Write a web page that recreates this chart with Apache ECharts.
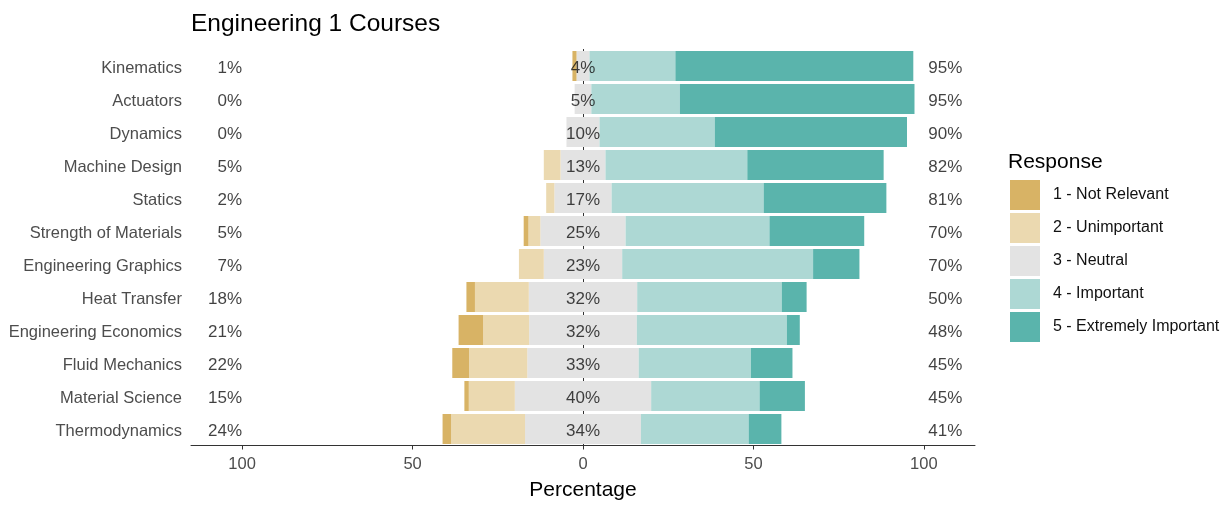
<!DOCTYPE html>
<html>
<head>
<meta charset="utf-8">
<script src="https://cdn.jsdelivr.net/npm/echarts@6/dist/echarts.min.js"></script>
<style>
  html, body { margin: 0; padding: 0; background: #fff; }
  #chart { width: 1225px; height: 508px; }
</style>
</head>
<body>
<div id="chart"></div>
<script>
const categories = ['Kinematics', 'Actuators', 'Dynamics', 'Machine Design', 'Statics',
  'Strength of Materials', 'Engineering Graphics', 'Heat Transfer', 'Engineering Economics',
  'Fluid Mechanics', 'Material Science', 'Thermodynamics'];
const responseNames = ['1 - Not Relevant', '2 - Unimportant', '3 - Neutral', '4 - Important', '5 - Extremely Important'];
const notRelevant = [1.2, 0, 0, 0, 0, 1.4, 0, 2.5, 7.2, 4.9, 1.3, 2.5];
const unimportant = [0, 0, 0, 4.9, 2.4, 3.5, 7.3, 15.8, 13.5, 17.1, 13.5, 21.7];
const neutral = [3.8, 4.9, 9.7, 13.2, 16.8, 25.0, 23.0, 31.8, 31.6, 32.7, 40.0, 34.0];
const important = [25.2, 26.0, 33.8, 41.6, 44.6, 42.2, 56.0, 42.4, 44.0, 32.9, 31.8, 31.6];
const extreme = [69.8, 68.8, 56.4, 40.0, 36.0, 27.8, 13.6, 7.3, 3.8, 12.2, 13.3, 9.6];
const xTicks = [-100, -50, 0, 50, 100];

const colors = ['#D8B365', '#EBD9B0', '#E3E3E3', '#ADD8D4', '#5AB4AC'];
const FONT = 'Liberation Sans, Arial, sans-serif';

const lowPct = categories.map((c, i) => Math.round(notRelevant[i] + unimportant[i]));
const midPct = categories.map((c, i) => Math.round(neutral[i]));
const highPct = categories.map((c, i) => Math.round(important[i] + extreme[i]));

function barSeries(name, data, color) {
  return {
    type: 'bar', name: name, stack: 'likert', data: data, barWidth: 30,
    itemStyle: { color: color }, z: 2, silent: true
  };
}
function labelSeries(xVal, texts, align) {
  return {
    type: 'scatter', symbolSize: 0, z: 5, silent: true,
    data: categories.map((c, i) => [xVal, c]),
    label: {
      show: true, position: 'inside', align: align, verticalAlign: 'middle',
      offset: [0, 2.5],
      fontFamily: FONT, fontSize: 17, color: '#111',
      formatter: p => texts[p.dataIndex] + '%'
    }
  };
}

const chart = echarts.init(document.getElementById('chart'), null, { renderer: 'canvas' });
chart.setOption({
  animation: false,
  backgroundColor: '#ffffff',
  title: [
    { text: 'Engineering 1 Courses', left: 186, top: 7,
      textStyle: { fontFamily: FONT, fontSize: 24.5, fontWeight: 'normal', color: '#000' } },
    { text: 'Response', left: 1003, top: 147,
      textStyle: { fontFamily: FONT, fontSize: 21, fontWeight: 'normal', color: '#000' } }
  ],
  legend: {
    data: responseNames, orient: 'vertical', left: 1005, top: 175,
    itemWidth: 30, itemHeight: 30, itemGap: 3, icon: 'rect',
    textStyle: { fontFamily: FONT, fontSize: 16, color: '#111', padding: [0, 0, 0, 8] },
    selectedMode: false
  },
  grid: { left: 191, top: 49.5, width: 784, height: 396 },
  xAxis: [{
    type: 'value', min: -115, max: 115,
    name: 'Percentage', nameLocation: 'middle', nameGap: 34,
    nameTextStyle: { fontFamily: FONT, fontSize: 21, color: '#000' },
    axisLine: { show: true, lineStyle: { color: '#333', width: 1 } },
    axisTick: { show: true, length: 4, customValues: xTicks, lineStyle: { color: '#333' } },
    axisLabel: { customValues: xTicks, formatter: v => String(Math.abs(v)), margin: 10,
      fontFamily: FONT, fontSize: 16.5, color: '#4D4D4D' },
    splitLine: { show: false }
  }, {
    // helper axis: only its split line at 0 is shown (dashed zero line behind the bars)
    type: 'value', min: -115, max: 115, interval: 115, position: 'top',
    axisLine: { show: false }, axisTick: { show: false }, axisLabel: { show: false },
    splitLine: { show: true, lineStyle: { color: ['rgba(0,0,0,0)', '#000', 'rgba(0,0,0,0)'], type: [4, 4], width: 1 } }
  }],
  yAxis: {
    type: 'category', data: categories, inverse: true,
    axisLine: { show: true, lineStyle: { color: '#333', width: 1 } },
    axisTick: { show: true, length: 5, alignWithLabel: true, lineStyle: { color: '#333' } },
    axisLabel: { margin: 9, formatter: v => '{a|' + v + '}',
      rich: { a: { fontFamily: FONT, fontSize: 16.5, color: '#4D4D4D', padding: [4, 0, 0, 0] } } }
  },
  series: [
    barSeries(responseNames[2], neutral.map(v => -v / 2), colors[2]),
    barSeries(responseNames[1], unimportant.map(v => -v), colors[1]),
    barSeries(responseNames[0], notRelevant.map(v => -v), colors[0]),
    barSeries(responseNames[2], neutral.map(v => v / 2), colors[2]),
    barSeries(responseNames[3], important, colors[3]),
    barSeries(responseNames[4], extreme, colors[4]),
    labelSeries(-100, lowPct, 'right'),
    labelSeries(0, midPct, 'center'),
    labelSeries(101.3, highPct, 'left')
  ]
});
</script>
</body>
</html>
